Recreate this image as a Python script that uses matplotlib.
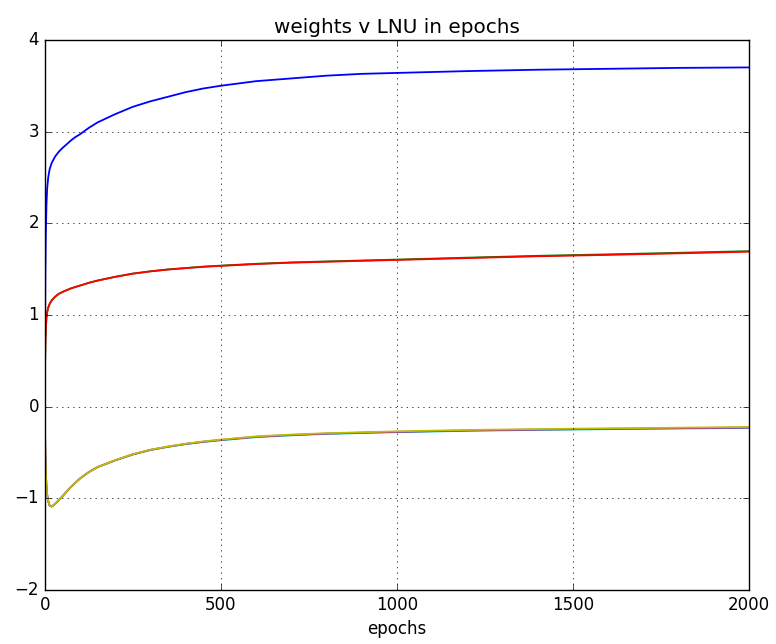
import matplotlib
matplotlib.use("Agg")
import matplotlib.pyplot as plt

plt.style.use('classic')

# values
epochs = [0, 1, 2, 3, 5, 7, 10, 14, 20, 30, 40, 50, 62, 75, 87, 100, 125, 150, 200, 250,
          300, 350, 400, 450, 500, 600, 700, 800, 900, 1000, 1200, 1400, 1600, 1800, 2000]
w_blue = [0, 0.9, 1.5, 1.85, 2.2, 2.38, 2.5, 2.59, 2.66, 2.73, 2.78, 2.82, 2.86, 2.905, 2.94, 2.97, 3.04, 3.10, 3.19, 3.27,
          3.33, 3.38, 3.43, 3.47, 3.50, 3.55, 3.58, 3.61, 3.63, 3.64, 3.66, 3.675, 3.685, 3.695, 3.70]
w_red = [0, 0.45, 0.7, 0.83, 0.97, 1.03, 1.08, 1.12, 1.16, 1.20, 1.23, 1.25, 1.27, 1.29, 1.305, 1.32, 1.35, 1.375, 1.415, 1.45,
         1.475, 1.495, 1.51, 1.525, 1.535, 1.555, 1.57, 1.58, 1.59, 1.60, 1.62, 1.64, 1.655, 1.672, 1.69]
w_green = [0, 0.45, 0.7, 0.83, 0.97, 1.03, 1.08, 1.12, 1.16, 1.20, 1.23, 1.25, 1.27, 1.29, 1.305, 1.32, 1.35, 1.375, 1.416, 1.451,
           1.476, 1.497, 1.512, 1.527, 1.538, 1.558, 1.573, 1.584, 1.594, 1.604, 1.625, 1.645, 1.661, 1.678, 1.696]
w_cyan = [0, -0.3, -0.55, -0.7, -0.87, -0.96, -1.03, -1.08, -1.09, -1.06, -1.02, -0.98, -0.928, -0.875, -0.83, -0.785, -0.715, -0.66, -0.587, -0.523,
          -0.474, -0.439, -0.41, -0.386, -0.367, -0.333, -0.313, -0.298, -0.288, -0.279, -0.264, -0.254, -0.246, -0.239, -0.232]
w_magenta = [0, -0.3, -0.55, -0.7, -0.87, -0.96, -1.03, -1.08, -1.09, -1.06, -1.02, -0.98, -0.928, -0.875, -0.83, -0.785, -0.715, -0.66, -0.586, -0.521,
             -0.472, -0.437, -0.407, -0.383, -0.363, -0.329, -0.309, -0.294, -0.284, -0.275, -0.26, -0.25, -0.242, -0.235, -0.228]
w_yellow = [0, -0.3, -0.55, -0.7, -0.87, -0.96, -1.03, -1.08, -1.09, -1.06, -1.02, -0.98, -0.928, -0.875, -0.83, -0.785, -0.715, -0.66, -0.585, -0.52,
            -0.47, -0.435, -0.405, -0.38, -0.36, -0.325, -0.305, -0.29, -0.28, -0.27, -0.255, -0.245, -0.237, -0.23, -0.222]

fig = plt.figure(figsize=(7.76, 6.44), dpi=100, facecolor='white')
ax = fig.add_axes([0.0576, 0.0839, 0.9074, 0.8541])

for w, c in [(w_blue, 'b'), (w_green, 'g'), (w_red, 'r'),
             (w_cyan, 'c'), (w_magenta, 'm'), (w_yellow, 'y')]:
    ax.plot(epochs, w, color=c, lw=1.3)

ax.set_xlim(0, 2000)
ax.set_ylim(-2, 4)
ax.grid(True)
ax.set_title('weights v LNU in epochs')
ax.set_xlabel('epochs')

fig.savefig('out.png', dpi=100, facecolor='white')
